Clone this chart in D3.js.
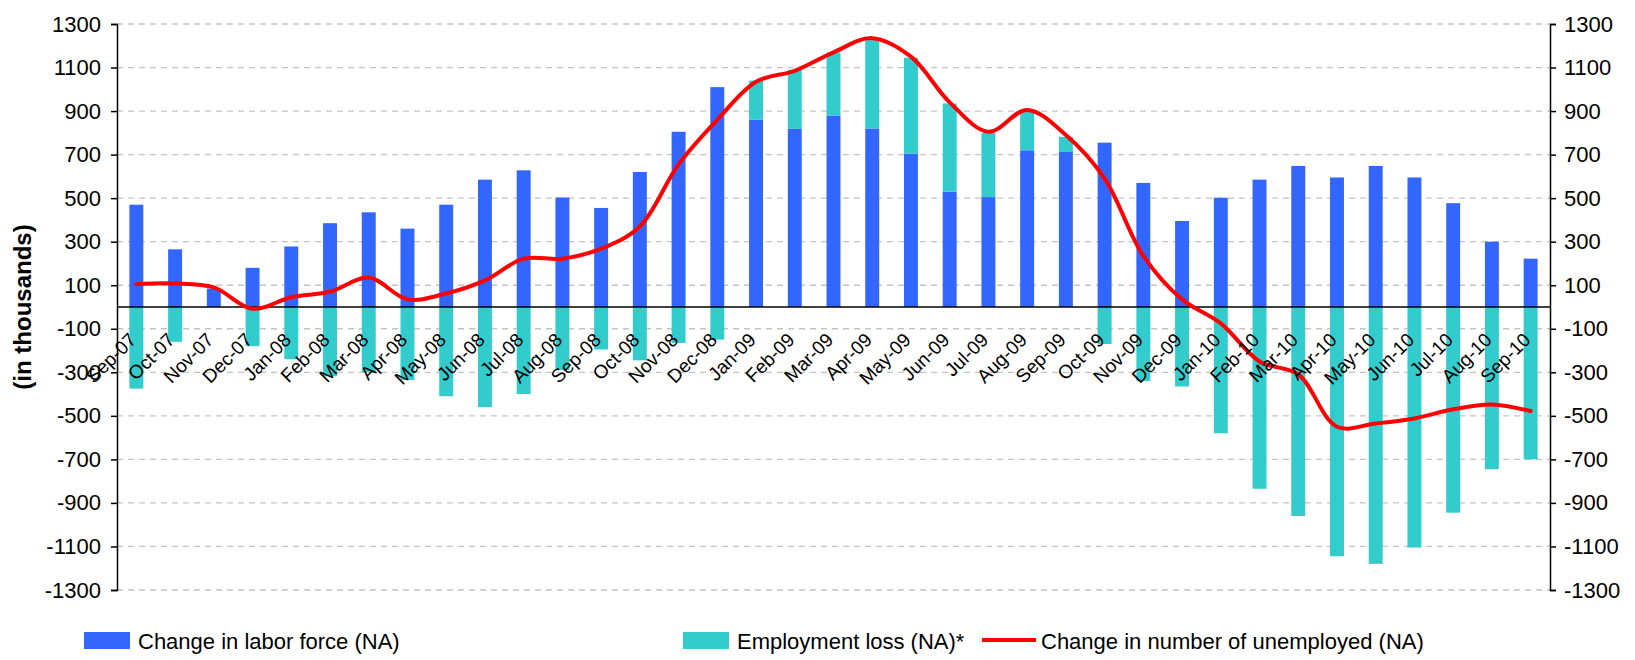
<!DOCTYPE html>
<html>
<head>
<meta charset="utf-8">
<script src="https://cdn.jsdelivr.net/npm/d3@7"></script>
<style>
  body { margin: 0; background: #fff; }
  text { font-family: "Liberation Sans", Arial, sans-serif; fill: #000; }
</style>
</head>
<body>
<svg id="chart" width="1635" height="660"></svg>
<script>
// months on the x axis
const months = [
  "Sep-07", "Oct-07", "Nov-07", "Dec-07",
  "Jan-08", "Feb-08", "Mar-08", "Apr-08", "May-08", "Jun-08", "Jul-08", "Aug-08", "Sep-08", "Oct-08", "Nov-08", "Dec-08",
  "Jan-09", "Feb-09", "Mar-09", "Apr-09", "May-09", "Jun-09", "Jul-09", "Aug-09", "Sep-09", "Oct-09", "Nov-09", "Dec-09",
  "Jan-10", "Feb-10", "Mar-10", "Apr-10", "May-10", "Jun-10", "Jul-10", "Aug-10", "Sep-10"
];
// change in labor force (thousands)
const laborForce = [
  470, 265, 85, 180,
  278, 385, 435, 360, 470, 585, 628, 503, 455, 620, 805, 1010,
  860, 818, 878, 820, 705, 530, 505, 720, 712, 755, 570, 395,
  502, 585, 648, 595, 648, 595, 477, 300, 222
];
// employment loss (thousands), stacked on labor force
const employmentLoss = [
  -375, -160, 0, -180,
  -240, -318, -300, -335, -410, -460, -400, -290, -195, -245, -165, -150,
  180, 272, 292, 410, 440, 405, 295, 180, 70, -170, -340, -365,
  -580, -835, -960, -1145, -1180, -1105, -945, -745, -700
];
// change in number of unemployed (thousands)
const unemployedChange = [
  105, 108, 90, -8,
  45, 70, 135, 35, 62, 122, 222, 222, 268, 370, 655, 860,
  1035, 1085, 1170, 1235, 1150, 940, 805, 905, 790, 590, 235, 35,
  -75, -250, -310, -550, -535, -512, -470, -448, -478
];
const yTicks = d3.range(-1300, 1301, 200);
const seriesNames = ["Change in labor force (NA)", "Employment loss (NA)*", "Change in number of unemployed (NA)"];
const colors = ["#3366ff", "#33cccc", "#ff0000"];

const svg = d3.select('#chart');
const plotLeft = 117, plotRight = 1550, plotTop = 24, plotBottom = 590;

const x = d3.scaleBand().domain(months).range([plotLeft, plotRight]).paddingInner(0.64).paddingOuter(0.32);
const y = d3.scaleLinear().domain([-1300, 1300]).range([plotBottom, plotTop]);
const cx = m => x(m) + x.bandwidth() / 2;

// gridlines
svg.append('g')
  .selectAll('line')
  .data(yTicks)
  .join('line')
  .attr('x1', plotLeft).attr('x2', plotRight)
  .attr('y1', d => y(d)).attr('y2', d => y(d))
  .attr('stroke', '#c4c4c4')
  .attr('stroke-width', 1.3)
  .attr('stroke-dasharray', '6,5');

// stacked bars
const rows = months.map((m, i) => ({ month: m, labor: laborForce[i], loss: employmentLoss[i] }));
const stacked = d3.stack().keys(['labor', 'loss']).offset(d3.stackOffsetDiverging)(rows);

svg.append('g')
  .selectAll('g')
  .data(stacked)
  .join('g')
  .attr('fill', (d, i) => colors[i])
  .selectAll('rect')
  .data(d => d)
  .join('rect')
  .attr('x', d => x(d.data.month))
  .attr('width', x.bandwidth())
  .attr('y', d => y(Math.max(d[0], d[1])))
  .attr('height', d => Math.abs(y(d[0]) - y(d[1])));

// zero line
svg.append('line')
  .attr('x1', plotLeft).attr('x2', plotRight)
  .attr('y1', y(0)).attr('y2', y(0))
  .attr('stroke', '#000').attr('stroke-width', 1.5);

// unemployed line
const line = d3.line()
  .x((d, i) => cx(months[i]))
  .y(d => y(d))
  .curve(d3.curveCatmullRom.alpha(0.5));

svg.append('path')
  .datum(unemployedChange)
  .attr('d', line)
  .attr('fill', 'none')
  .attr('stroke', colors[2])
  .attr('stroke-width', 4)
  .attr('stroke-linejoin', 'round')
  .attr('stroke-linecap', 'round');

// axes
const fmt = d => String(d);
const yLeft = svg.append('g')
  .attr('transform', `translate(${plotLeft},0)`)
  .call(d3.axisLeft(y).tickValues(yTicks).tickFormat(fmt).tickSizeOuter(0).tickSize(6).tickPadding(10));
const yRight = svg.append('g')
  .attr('transform', `translate(${plotRight},0)`)
  .call(d3.axisRight(y).tickValues(yTicks).tickFormat(fmt).tickSizeOuter(0).tickSize(6).tickPadding(8));

[yLeft, yRight].forEach(g => {
  g.select('.domain').attr('stroke', '#000').attr('stroke-width', 1.5);
  g.selectAll('.tick line').attr('stroke', '#000').attr('stroke-width', 1.5);
  g.selectAll('.tick text').attr('font-size', 22).attr('font-family', '"Liberation Sans", Arial, sans-serif').attr('fill', '#000');
});

// category labels
svg.append('g')
  .selectAll('text')
  .data(months)
  .join('text')
  .attr('transform', d => `translate(${cx(d) + 1},${y(0) + 34}) rotate(-45)`)
  .attr('text-anchor', 'end')
  .attr('font-size', 19)
  .text(d => d);

// y title
svg.append('text')
  .attr('transform', `translate(31,${y(0)}) rotate(-90)`)
  .attr('text-anchor', 'middle')
  .attr('font-size', 24)
  .attr('font-weight', 'bold')
  .text('(in thousands)');

// legend
const legend = svg.append('g');
const legendX = [84, 683, 982];
seriesNames.forEach((name, i) => {
  const g = legend.append('g').attr('transform', `translate(${legendX[i]},640)`);
  if (i < 2) {
    g.append('rect').attr('x', 0).attr('y', -8).attr('width', 46).attr('height', 17).attr('fill', colors[i]);
  } else {
    g.append('line').attr('x1', 0).attr('x2', 54).attr('y1', 0).attr('y2', 0)
      .attr('stroke', colors[i]).attr('stroke-width', 4);
  }
  g.append('text')
    .attr('x', i < 2 ? 54 : 59)
    .attr('y', 9)
    .attr('font-size', 22)
    .text(name);
});
</script>
</body>
</html>
